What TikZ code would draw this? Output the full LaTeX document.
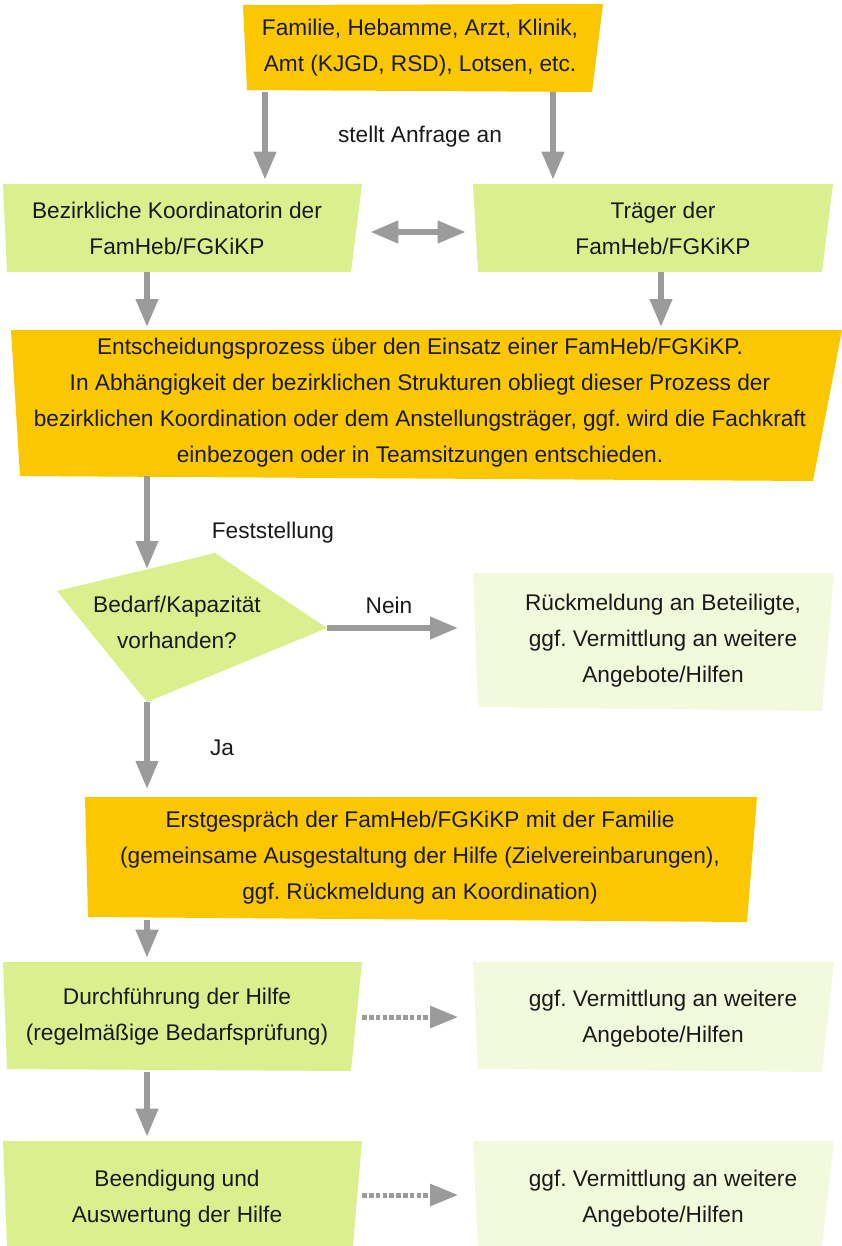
\documentclass[tikz,border=0pt]{standalone}
\usepackage{fontspec}
\setmainfont{Liberation Sans}
\frenchspacing
\usetikzlibrary{positioning, arrows.meta}
\definecolor{famyellow}{HTML}{FBC700}
\definecolor{famgreen}{HTML}{DCEF8E}
\definecolor{fampale}{HTML}{F3F9DC}
\definecolor{arrgray}{HTML}{9B9B9B}
\definecolor{txt}{HTML}{1A1A1A}
\tikzset{
  txtbox/.style={rectangle, inner sep=0pt, align=center, text=txt,
                 font=\fontsize{17}{27}\selectfont},
  lbl/.style={inner sep=0pt, text=txt, font=\fontsize{17}{20}\selectfont},
  arr/.style={-{Triangle[length=21pt,width=16pt]}, line width=4.5pt, color=arrgray},
  darr/.style={{Triangle[length=21pt,width=16pt]}-{Triangle[length=21pt,width=16pt]},
               line width=4.5pt, color=arrgray},
  dotarr/.style={arr, line width=3.75pt, dash pattern=on 3.4pt off 1.7pt},
}
\begin{document}
\begin{tikzpicture}[x=0.75pt, y=-0.75pt]
    \useasboundingbox (0,0) rectangle (842,1246);
    % box shapes
    \fill[famyellow] (243,5) -- (603,4) -- (592,92) -- (247,90) -- cycle;
    \fill[famgreen] (3,184) -- (362,184) -- (351,272) -- (7,272) -- cycle;
    \fill[famgreen] (473,184) -- (833,184) -- (822,272) -- (478,272) -- cycle;
    \fill[famyellow] (11,330) -- (842,330) -- (813,481) -- (20,476) -- cycle;
    \fill[famgreen] (215,553) -- (327,628) -- (147,702) -- (57,591) -- cycle;
    \fill[fampale] (473,573) -- (834,573) -- (822,711) -- (478,707) -- cycle;
    \fill[famyellow] (85,797) -- (757,797) -- (747,922) -- (88,917) -- cycle;
    \fill[famgreen] (3,962) -- (362,962) -- (351,1071) -- (7,1069) -- cycle;
    \fill[fampale] (473,962) -- (834,962) -- (822,1072) -- (478,1069) -- cycle;
    \fill[famgreen] (3,1141) -- (362,1141) -- (353,1246) -- (7,1246) -- cycle;
    \fill[fampale] (473,1141) -- (834,1141) -- (822,1246) -- (478,1246) -- cycle;

    \coordinate (colL) at (147,0);
    \coordinate (colA) at (265,0);
    \coordinate (colB) at (553,0);
    \coordinate (colR) at (661,0);
    \coordinate (din) at (147,569);
    \coordinate (dright) at (327,628);
    \coordinate (dbot) at (147,702);

    \node[txtbox, minimum height=66pt] (src) at (420,48)
          {Familie, Hebamme, Arzt, Klinik,\\Amt (KJGD, RSD), Lotsen, etc.};
    \node[txtbox, minimum height=66pt, minimum width=277.5pt] (koord) at (177,228)
          {Bezirkliche Koordinatorin der\\FamHeb/FGKiKP};
    \node[txtbox, minimum height=66pt, minimum width=285pt] (traeger) at (663,228)
          {Träger der\\FamHeb/FGKiKP};
    \node[txtbox, minimum height=109.5pt] (entsch) at (420,403)
          {Entscheidungsprozess über den Einsatz einer FamHeb/FGKiKP.\\
           In Abhängigkeit der bezirklichen Strukturen obliegt dieser Prozess der\\
           bezirklichen Koordination oder dem Anstellungsträger, ggf. wird die Fachkraft\\
           einbezogen oder in Teamsitzungen entschieden.};
    \node[txtbox] (dec) at (177,622) {Bedarf/Kapazität\\vorhanden?};
    \node[txtbox, minimum width=285pt] (rueck) at (663,641)
          {Rückmeldung an Beteiligte,\\ggf. Vermittlung an weitere\\Angebote/Hilfen};
    \node[txtbox, minimum height=93pt] (erst) at (420,858)
          {Erstgespräch der FamHeb/FGKiKP mit der Familie\\
           (gemeinsame Ausgestaltung der Hilfe (Zielvereinbarungen),\\
           ggf. Rückmeldung an Koordination)};
    \node[txtbox, minimum height=82.5pt, minimum width=277.5pt] (durch) at (177,1017)
          {Durchführung der Hilfe\\(regelmäßige Bedarfsprüfung)};
    \node[txtbox, minimum width=285pt] (verm1) at (663,1019)
          {ggf. Vermittlung an weitere\\Angebote/Hilfen};
    \node[txtbox, minimum height=87pt, minimum width=277.5pt] (been) at (177,1199)
          {Beendigung und\\Auswertung der Hilfe};
    \node[txtbox, minimum width=285pt] (verm2) at (663,1199)
          {ggf. Vermittlung an weitere\\Angebote/Hilfen};

    \node[lbl] (anfrage) at (420,137) {stellt Anfrage an};
    \node[lbl] (fest) at (273,533) {Feststellung};
    \node[lbl] (nein) at (389,605) {Nein};
    \node[lbl] (ja) at (222,748) {Ja};

    % connectors
    \draw[arr, shorten >=3pt] (src.south -| colA) -- (koord.north -| colA);
    \draw[arr, shorten >=3pt] (src.south -| colB) -- (traeger.north -| colB);
    \draw[darr, shorten <=6pt, shorten >=5.25pt]
          ([yshift=-3pt]koord.east) -- ([yshift=-3pt]traeger.west);
    \draw[arr, shorten >=2pt] (koord.south -| colL) -- (entsch.north -| colL);
    \draw[arr, shorten >=2pt] (traeger.south -| colR) -- (entsch.north -| colR);
    \draw[arr] (entsch.south -| din) -- (din);
    \draw[arr, shorten >=11pt] (dright) -- (dright -| rueck.west);
    \draw[arr, shorten >=5pt] (dbot) -- (erst.north -| dbot);
    \draw[arr, shorten >=3pt] (erst.south -| colL) -- (durch.north -| colL);
    \draw[arr, shorten >=3pt] (durch.south -| colL) -- (been.north -| colL);
    \draw[dotarr, shorten >=11pt] (durch.east) -- (durch.east -| verm1.west);
    \draw[dotarr, shorten >=11pt] ([yshift=3pt]been.east) -- ([yshift=3pt]been.east -| verm2.west);
\end{tikzpicture}
\end{document}
